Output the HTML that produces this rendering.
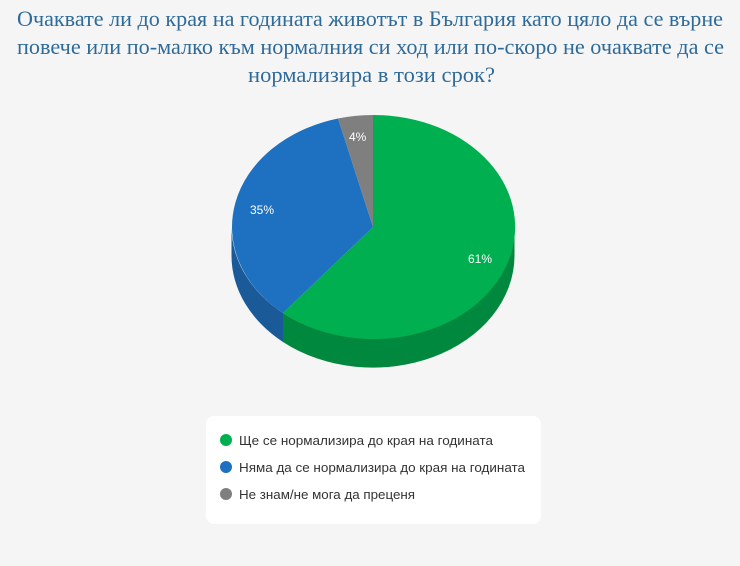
<!DOCTYPE html>
<html><head><meta charset="utf-8"><style>
html,body{margin:0;padding:0;background:#f5f5f5;}
</style></head><body>
<svg width="740" height="561" xmlns="http://www.w3.org/2000/svg">
<rect width="740" height="561" fill="#f5f5f5"/>
<g font-family="Liberation Serif, Noto Serif CJK SC, serif" font-size="22" fill="#2f6b9a">
<text x="17" y="26" textLength="706" lengthAdjust="spacingAndGlyphs">Очаквате ли до края на годината животът в България като цяло да се върне</text>
<text x="17" y="54" textLength="707" lengthAdjust="spacingAndGlyphs">повече или по-малко към нормалния си ход или по-скоро не очаквате да се</text>
<text x="248" y="82" textLength="247" lengthAdjust="spacingAndGlyphs">нормализира в този срок?</text>
</g>
<path d="M514.5 227 A141.5 112 0 0 1 283 313 L283 342 A141.5 112 0 0 0 514.5 256 Z" fill="#00893e"/>
<path d="M283 313 A141.5 112 0 0 1 231.5 227 L231.5 256 A141.5 112 0 0 0 283 342 Z" fill="#1a5a98"/>
<path d="M373 227 L373 115 A141.5 112 0 1 1 283 313 Z" fill="#00b050"/>
<path d="M373 227 L283 313 A141.5 112 0 0 1 338 118.5 Z" fill="#1e70c0"/>
<path d="M373 227 L338 118.5 A141.5 112 0 0 1 373 115 Z" fill="#7f7f7f"/>
<g font-family="Liberation Sans, sans-serif" font-size="12" fill="#fff">
<text x="468" y="263">61%</text>
<text x="250" y="214">35%</text>
<text x="349" y="141">4%</text>
</g>
<rect x="206" y="416" width="335" height="108" rx="8" fill="#fff"/>
<g font-family="Liberation Sans, sans-serif" font-size="13" fill="#333">
<circle cx="226" cy="440" r="6" fill="#00b050"/>
<text x="239" y="445" textLength="254" lengthAdjust="spacingAndGlyphs">Ще се нормализира до края на годината</text>
<circle cx="226" cy="467" r="6" fill="#1e70c0"/>
<text x="239" y="472" textLength="286" lengthAdjust="spacingAndGlyphs">Няма да се нормализира до края на годината</text>
<circle cx="226" cy="494" r="6" fill="#7f7f7f"/>
<text x="239" y="499" textLength="176" lengthAdjust="spacingAndGlyphs">Не знам/не мога да преценя</text>
</g>
</svg>
</body></html>
